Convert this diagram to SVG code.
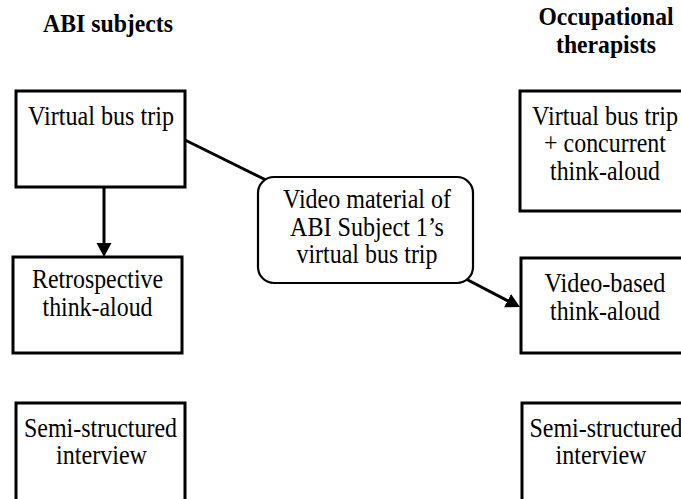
<svg xmlns="http://www.w3.org/2000/svg" width="681" height="499" viewBox="0 0 681 499">
<style>
  text { font-family: "Liberation Serif", "Times New Roman", serif; font-size: 26.5px; fill: #000; text-anchor: middle; }
  .hdr { font-weight: bold; font-size: 26px; }
  .box { fill: #fff; stroke: #000; stroke-width: 3; }
  .rbox { fill: #fff; stroke: #000; stroke-width: 2.2; }
  .conn { stroke: #000; stroke-width: 3; fill: none; }
</style>
<defs>
  <marker id="ah" markerUnits="userSpaceOnUse" markerWidth="16" markerHeight="16" refX="2" refY="7.5" orient="auto">
    <path d="M0,0 L14,7.5 L0,15 z" fill="#000"/>
  </marker>
</defs>
<rect width="681" height="499" fill="#fff"/>

<g id="header-abi">
  <text class="hdr" x="108" y="32" textLength="130" lengthAdjust="spacingAndGlyphs">ABI subjects</text>
</g>
<g id="header-ot">
  <text class="hdr" x="606" y="25" textLength="135" lengthAdjust="spacingAndGlyphs">Occupational</text>
  <text class="hdr" x="606" y="53" textLength="100" lengthAdjust="spacingAndGlyphs">therapists</text>
</g>

<g id="connectors">
  <line class="conn" x1="104" y1="187" x2="104" y2="245" marker-end="url(#ah)"/>
  <line class="conn" x1="185" y1="140" x2="268" y2="181"/>
  <line class="conn" x1="466" y1="279" x2="509.3" y2="301.55" marker-end="url(#ah)"/>
</g>

<g id="abi-bus-trip">
  <rect class="box" x="16" y="91" width="169" height="96"/>
  <text x="101" y="125" textLength="146" lengthAdjust="spacingAndGlyphs">Virtual bus trip</text>
</g>
<g id="abi-retrospective">
  <rect class="box" x="13" y="257" width="169" height="96"/>
  <text x="97.5" y="288" textLength="131" lengthAdjust="spacingAndGlyphs">Retrospective</text>
  <text x="97.5" y="316" textLength="110" lengthAdjust="spacingAndGlyphs">think-aloud</text>
</g>
<g id="abi-interview">
  <rect class="box" x="16" y="403" width="169" height="110"/>
  <text x="100.5" y="437" textLength="153" lengthAdjust="spacingAndGlyphs">Semi-structured</text>
  <text x="101.5" y="464" textLength="91" lengthAdjust="spacingAndGlyphs">interview</text>
</g>

<g id="video-material">
  <rect class="rbox" x="258" y="177" width="215" height="106" rx="16" ry="16"/>
  <text x="367" y="208" textLength="168" lengthAdjust="spacingAndGlyphs">Video material of</text>
  <text x="367" y="236" textLength="154" lengthAdjust="spacingAndGlyphs">ABI Subject 1’s</text>
  <text x="367" y="263" textLength="141" lengthAdjust="spacingAndGlyphs">virtual bus trip</text>
</g>

<g id="ot-bus-trip">
  <rect class="box" x="520" y="91" width="169" height="120"/>
  <text x="605" y="125" textLength="146" lengthAdjust="spacingAndGlyphs">Virtual bus trip</text>
  <text x="605" y="152" textLength="122" lengthAdjust="spacingAndGlyphs">+ concurrent</text>
  <text x="605" y="180" textLength="110" lengthAdjust="spacingAndGlyphs">think-aloud</text>
</g>
<g id="ot-video-think-aloud">
  <rect class="box" x="521" y="258" width="169" height="95"/>
  <text x="605" y="292" textLength="121" lengthAdjust="spacingAndGlyphs">Video-based</text>
  <text x="605" y="320" textLength="110" lengthAdjust="spacingAndGlyphs">think-aloud</text>
</g>
<g id="ot-interview">
  <rect class="box" x="522" y="403" width="169" height="110"/>
  <text x="606" y="437" textLength="153" lengthAdjust="spacingAndGlyphs">Semi-structured</text>
  <text x="601" y="464" textLength="91" lengthAdjust="spacingAndGlyphs">interview</text>
</g>
</svg>
